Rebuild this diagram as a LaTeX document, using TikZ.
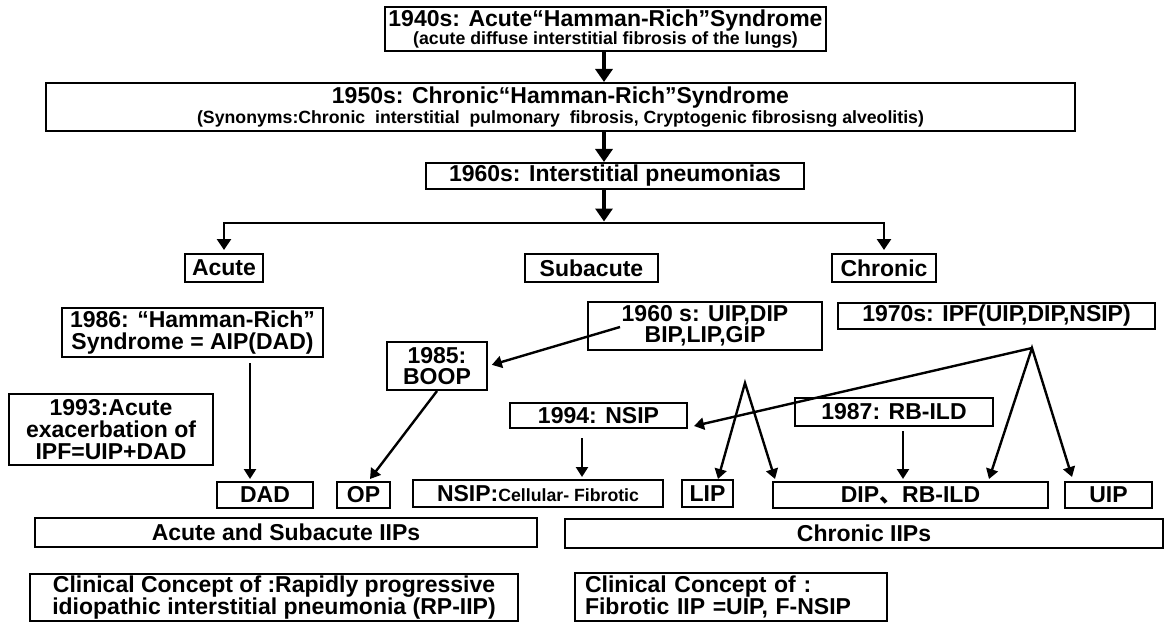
\documentclass[tikz,border=0pt]{standalone}
\usepackage{fontspec}
\setmainfont{Liberation Sans}
\newfontfamily\cjkfont{Noto Sans CJK SC}
\usetikzlibrary{arrows.meta,calc}
\newcommand\fA{\fontsize{23}{23}\selectfont}
\newcommand\fB{\fontsize{17.7}{18}\selectfont}
\newcommand\bskip[1]{\fontsize{23}{#1}\selectfont\lineskiplimit=-30pt\lineskip=0pt}
\tikzset{
  bx/.style={draw, line width=2pt, inner sep=0pt, align=center, font=\bfseries\fA},
  trunkarr/.style={line width=4pt, -{Triangle[width=17pt,length=13pt]}},
  arr/.style={line width=2.4pt, -{Triangle[width=12pt,length=10pt]}},
  darr/.style={line width=2.4pt, line join=miter, {Triangle[width=12pt,length=10pt]}-{Triangle[width=12pt,length=10pt]}},
}
\begin{document}
\begin{tikzpicture}[x=1pt,y=-1pt]
\useasboundingbox (0,0) rectangle (1165,623);
\fill[white] (0,0) rectangle (1165,623);
% helper coordinates
\coordinate (trunk) at (604,0);
\coordinate (barY) at (0,223);
\coordinate (xdad) at (250,0);
\coordinate (x582) at (582,0);
\coordinate (x903) at (903,0);
\coordinate (s1) at (620,327);
\coordinate (apexA) at (745,383);
\coordinate (apexB) at (1032,348);
% boxes
\node[bx, minimum width=441, minimum height=44, font={\bfseries\bskip{18}}] (b1940) at (605.5,29)
  {1940s: Acute“Hamman-Rich”Syndrome\\ \fB(acute diffuse interstitial fibrosis of the lungs)};
\node[bx, minimum width=1029, minimum height=48, font={\bfseries\bskip{20}}] (b1950) at (560.5,107)
  {1950s: Chronic“Hamman-Rich”Syndrome\\ \fB(Synonyms:Chronic\ \ interstitial\ \ pulmonary\ \ fibrosis, Cryptogenic fibrosisng alveolitis)};
\node[bx, minimum width=378, minimum height=26] (b1960) at (615,176) {1960s: Interstitial pneumonias};
\node[bx, minimum width=78, minimum height=28] (acute) at (224,268) {Acute};
\node[bx, minimum width=133, minimum height=28] (subacute) at (591.5,268) {Subacute};
\node[bx, minimum width=104, minimum height=28] (chronic) at (884,268) {Chronic};
\node[bx, minimum width=261, minimum height=49, font={\bfseries\bskip{22.3}}] (b1986) at (192.5,332.5)
  {1986: “Hamman-Rich”\\Syndrome = AIP(DAD)};
\node[bx, minimum width=204, minimum height=71, font={\bfseries\bskip{21.7}}] (b1993) at (111,429.5)
  {1993:Acute\\exacerbation of\\IPF=UIP+DAD};
\node[bx, minimum width=100, minimum height=48, font={\bfseries\bskip{21}}] (boop) at (437,366)
  {1985:\\BOOP};
\node[bx, minimum width=234, minimum height=48, font={\bfseries\bskip{21}}] (b1960s) at (705,326)
  {1960 s: UIP,DIP\\BIP,LIP,GIP};
\node[bx, minimum width=317, minimum height=26] (b1970) at (996.5,316) {1970s: IPF(UIP,DIP,NSIP)};
\node[bx, minimum width=177, minimum height=25] (nsip94) at (598.5,415.5) {1994: NSIP};
\node[bx, minimum width=198, minimum height=28] (rbild) at (894,412) {1987: RB-ILD};
\node[bx, minimum width=96, minimum height=26] (dad) at (265,495) {DAD};
\node[bx, minimum width=53, minimum height=26] (op) at (363.5,495) {OP};
\node[bx, minimum width=250, minimum height=27] (nsipc) at (538,493.5) {NSIP:{\fB Cellular- Fibrotic}};
\node[bx, minimum width=51, minimum height=27] (lip) at (707.5,493.5) {LIP};
\node[bx, minimum width=275, minimum height=26] (dip) at (910.5,495) {DIP{\cjkfont 、}RB-ILD};
\node[bx, minimum width=87, minimum height=26] (uip) at (1108.5,495) {UIP};
\node[bx, minimum width=502, minimum height=29] (acuteiip) at (286,532.5) {Acute and Subacute IIPs};
\node[bx, minimum width=598, minimum height=29] (chroniciip) at (864,533.5) {Chronic IIPs};
\node[bx, minimum width=488, minimum height=47, font={\bfseries\bskip{22}}] (rp) at (274,597.5)
  {Clinical Concept of :Rapidly progressive\\idiopathic interstitial pneumonia (RP-IIP)};
\node[bx, align=left, text width=292pt, inner xsep=10pt, minimum height=48, font={\bfseries\bskip{22}}] (fib) at (731,597)
  {Clinical Concept of :\\Fibrotic IIP =UIP, F-NSIP};
% connectors
\draw[trunkarr] (b1940.south -| trunk) -- (b1950.north -| trunk);
\draw[trunkarr] (b1950.south -| trunk) -- (b1960.north -| trunk);
\draw[trunkarr, shorten >=1.5pt] (b1960.south -| trunk) -- (barY -| trunk);
\draw[line width=2.7pt, {Triangle[width=14pt,length=11pt]}-{Triangle[width=14pt,length=11pt]}, shorten <=3pt, shorten >=3pt]
  (acute.north) -- (acute.north |- barY) -- (chronic.north |- barY) -- (chronic.north);
\draw[arr, shorten <=5pt, shorten >=2pt] (b1986.south -| xdad) -- (dad.north -| xdad);
\draw[arr, shorten >=4pt] (s1) -- (boop.east);
\draw[arr] (boop.south) -- ($(op.north)+(6.5,-2)$);
\draw[arr, shorten <=9pt, shorten >=2pt] (nsip94.south -| x582) -- (nsipc.north -| x582);
\draw[darr] ($(lip.north)+(10.5,0)$) -- (apexA) -- ($(dip.north west)+(3,-2)$);
\draw[darr] ($(dip.north east)+(-60,-2)$) -- (apexB) -- ($(uip.north west)+(8,-4)$);
\draw[arr] (apexB) -- ($(nsip94.south east)+(6,-3)$);
\draw[arr, shorten <=4pt, shorten >=2pt] (rbild.south -| x903) -- (dip.north -| x903);
\end{tikzpicture}
\end{document}
